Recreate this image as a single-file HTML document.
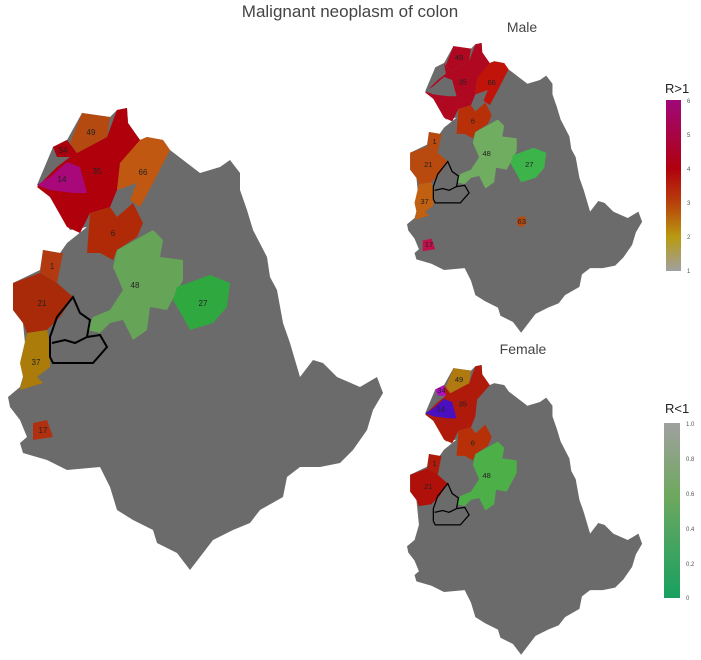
<!DOCTYPE html>
<html><head><meta charset="utf-8"><style>
html,body{margin:0;padding:0;background:#fff;}
svg{display:block;font-family:"Liberation Sans",sans-serif;}
</style></head><body>
<svg width="701" height="660" viewBox="0 0 701 660" xmlns="http://www.w3.org/2000/svg">
<defs>
<path id="outline" d="M37,185 L53,147 L67,140 L82,113 L110,117 L117,110 L127,108 L128,123 L140,140 L147,137 L163,140 L170,150 L200,173 L220,167 L230,160 L240,173 L240,190 L247,210 L253,230 L267,257 L270,277 L277,290 L283,323 L290,343 L300,377 L313,360 L323,363 L337,377 L360,387 L377,377 L383,393 L373,410 L367,430 L353,450 L340,463 L320,467 L300,467 L287,477 L283,497 L260,510 L250,523 L233,530 L213,540 L200,557 L190,570 L177,553 L157,543 L153,530 L133,520 L117,510 L110,487 L100,467 L67,470 L47,460 L23,453 L20,443 L27,437 L20,420 L10,407 L8,397 L20,387 L27,363 L23,323 L13,310 L13,283 L40,270 L43,250 L60,253 L67,243 L87,227 L70,230 L50,197 Z"/>
<path id="r35" d="M53,147 L67,140 L77,153 L107,137 L117,110 L127,108 L128,123 L140,140 L147,150 L120,163 L117,190 L110,207 L90,213 L80,233 L67,227 L50,197 L37,187 L57,167 L70,157 Z"/>
<path id="r49" d="M70,143 L82,113 L110,117 L107,137 L77,153 Z"/>
<path id="r34" d="M53,147 L67,140 L70,157 L57,157 Z"/>
<path id="r14" d="M37,185 L50,177 L67,162 L80,167 L87,193 L73,193 L50,190 Z"/>
<path id="r66" d="M120,163 L140,140 L147,137 L163,140 L170,150 L153,183 L140,207 L130,200 L137,183 L117,190 Z"/>
<path id="r6" d="M90,213 L110,207 L117,217 L133,203 L143,223 L137,237 L117,250 L113,260 L100,253 L87,253 Z"/>
<path id="r48" d="M117,250 L153,230 L163,240 L160,257 L183,260 L183,280 L167,310 L150,307 L147,330 L133,340 L123,320 L110,323 L100,333 L87,330 L93,317 L110,310 L123,290 L113,267 Z"/>
<path id="r27" d="M177,287 L210,275 L230,283 L227,307 L213,323 L190,330 L183,317 L173,300 Z"/>
<path id="r1" d="M43,250 L60,253 L63,253 L57,283 L40,273 Z"/>
<path id="r21" d="M13,283 L40,273 L57,283 L73,297 L60,317 L47,330 L27,333 L23,323 L13,310 Z"/>
<path id="r37" d="M27,333 L47,330 L50,343 L50,367 L37,377 L43,383 L20,390 L23,377 L20,363 Z"/>
<path id="r17" d="M33,423 L47,420 L53,437 L33,440 Z"/>
<path id="r63" d="M184,386 L196,384 L199,396 L190,402 L183,397 Z"/>
<path id="blk" d="M50,337 L57,317 L73,297 L80,313 L90,320 L87,337 L100,335 L107,347 L93,363 L53,363 L50,357 Z M52,343 L65,340 L75,343 L87,337" fill="none" stroke="#000" stroke-width="2"/>
<linearGradient id="gup" x1="0" y1="0" x2="0" y2="1">
<stop offset="0" stop-color="#a0087a"/><stop offset="0.4" stop-color="#b0000e"/><stop offset="0.6" stop-color="#b8400a"/><stop offset="0.8" stop-color="#b89a10"/><stop offset="1" stop-color="#a0a0a0"/></linearGradient>
<linearGradient id="gdn" x1="0" y1="0" x2="0" y2="1">
<stop offset="0" stop-color="#a0a0a0"/><stop offset="0.4" stop-color="#70a860"/><stop offset="1" stop-color="#18a060"/></linearGradient>
</defs>
<text x="350" y="17" text-anchor="middle" font-size="17" fill="#444">Malignant neoplasm of colon</text>

<!-- main -->
<g>
<use href="#outline" fill="#6b6b6b"/>
<use href="#r35" fill="#b0000c"/>
<use href="#r49" fill="#b44a10"/>
<use href="#r34" fill="#a8000c"/>
<use href="#r14" fill="#a8087a"/>
<use href="#r66" fill="#c05812"/>
<use href="#r6" fill="#b02a08"/>
<use href="#r48" fill="#66a558"/>
<use href="#r27" fill="#30a840"/>
<use href="#r1" fill="#b33a10"/>
<use href="#r21" fill="#a82a08"/>
<use href="#r37" fill="#ac7c0a"/>
<use href="#r17" fill="#b03010"/>
<use href="#blk"/>
<g font-size="8" fill="#222" text-anchor="middle">
<text x="91" y="135">49</text><text x="63" y="153">34</text><text x="97" y="174">35</text><text x="62" y="182">14</text><text x="143" y="175">66</text><text x="113" y="236">6</text><text x="52" y="269">1</text><text x="135" y="288">48</text><text x="203" y="306">27</text><text x="42" y="306">21</text><text x="36" y="365">37</text><text x="43" y="433">17</text>
</g>
</g>

<text x="522" y="32" text-anchor="middle" font-size="14" fill="#444">Male</text>
<g transform="translate(402,-24.7) scale(0.627)">
<use href="#outline" fill="#6b6b6b"/>
<use href="#r35" fill="#b00820"/>
<use href="#r34" fill="#6b6b6b"/>
<use href="#r14" fill="#6b6b6b"/>
<use href="#r49" fill="#b00820"/>
<use href="#r66" fill="#c0140a"/>
<use href="#r6" fill="#b83008"/>
<use href="#r48" fill="#70ad60"/>
<use href="#r27" fill="#3cb44a"/>
<use href="#r1" fill="#b84a10"/>
<use href="#r21" fill="#b84a10"/>
<use href="#r37" fill="#c06010"/>
<use href="#r17" fill="#c0104a"/>
<use href="#r63" fill="#b84a10"/>
<use href="#blk"/>
<g font-size="12" fill="#222" text-anchor="middle">
<text x="91" y="135">49</text><text x="97" y="174">35</text><text x="143" y="175">66</text><text x="113" y="236">6</text><text x="52" y="269">1</text><text x="135" y="288">48</text><text x="203" y="306">27</text><text x="42" y="306">21</text><text x="36" y="365">37</text><text x="43" y="433">17</text><text x="191" y="397">63</text>
</g>
</g>

<text x="523" y="354" text-anchor="middle" font-size="14" fill="#444">Female</text>
<g transform="translate(402,297.3) scale(0.627)">
<use href="#outline" fill="#6b6b6b"/>
<use href="#r35" fill="#b01a0a"/>
<use href="#r66" fill="#6b6b6b"/>
<use href="#r49" fill="#b07a10"/>
<use href="#r34" fill="#b010c0"/>
<use href="#r14" fill="#4a10c0"/>
<use href="#r6" fill="#b83008"/>
<use href="#r48" fill="#4caf48"/>
<use href="#r1" fill="#b01a0a"/>
<use href="#r21" fill="#b0100a"/>
<use href="#blk"/>
<g font-size="12" fill="#222" text-anchor="middle">
<text x="91" y="135">49</text><text x="63" y="153">34</text><text x="97" y="174">35</text><text x="62" y="182">14</text><text x="113" y="236">6</text><text x="52" y="269">1</text><text x="135" y="288">48</text><text x="42" y="306">21</text>
</g>
</g>

<!-- legends -->
<text x="665" y="93" font-size="13" fill="#222">R&gt;1</text>
<rect x="666" y="100" width="15" height="171" fill="url(#gup)"/>
<g font-size="6" fill="#555">
<text x="687" y="103">6</text><text x="687" y="137">5</text><text x="687" y="171">4</text><text x="687" y="205">3</text><text x="687" y="239">2</text><text x="687" y="273">1</text>
</g>
<text x="665" y="413" font-size="13" fill="#222">R&lt;1</text>
<rect x="664" y="423" width="16" height="175" fill="url(#gdn)"/>
<g font-size="6" fill="#555">
<text x="686" y="426">1.0</text><text x="686" y="461">0.8</text><text x="686" y="496">0.6</text><text x="686" y="531">0.4</text><text x="686" y="566">0.2</text><text x="686" y="600">0</text>
</g>
</svg>
</body></html>
